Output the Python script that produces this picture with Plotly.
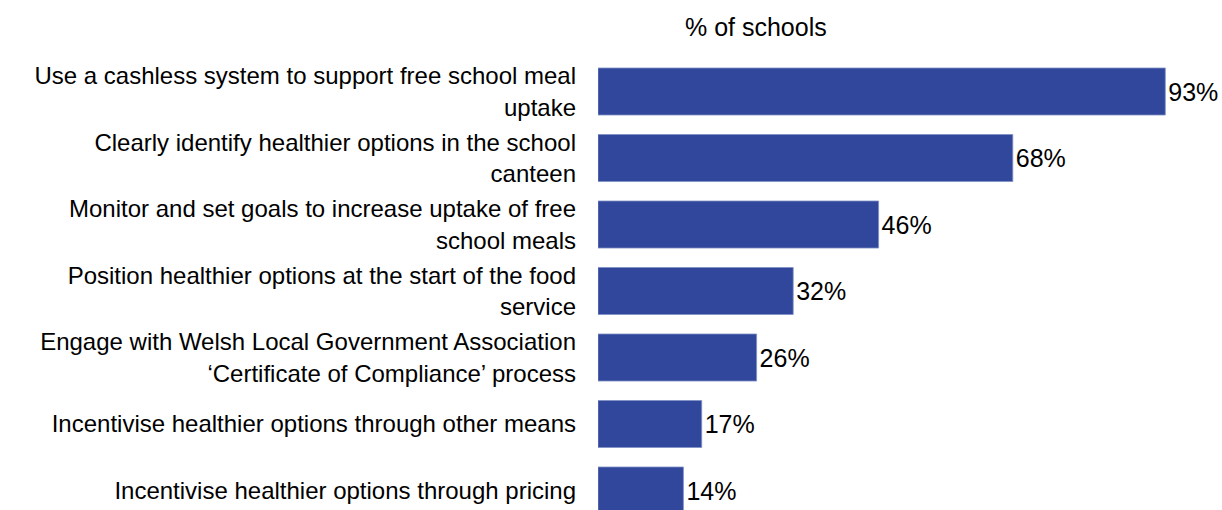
import plotly.graph_objects as go

categories = [
    "Use a cashless system to support free school meal<br>uptake",
    "Clearly identify healthier options in the school<br>canteen",
    "Monitor and set goals to increase uptake of free<br>school meals",
    "Position healthier options at the start of the food<br>service",
    "Engage with Welsh Local Government Association<br>\u2018Certificate of Compliance\u2019 process",
    "Incentivise healthier options through other means",
    "Incentivise healthier options through pricing",
]
values = [93, 68, 46, 32, 26, 17, 14]
axis_title = "% of schools"

positions = list(range(len(categories)))
font_family = "Liberation Sans, Arial, sans-serif"
bar_color = "#30479C"

fig = go.Figure(
    go.Bar(
        x=values,
        y=positions,
        orientation="h",
        width=0.707,
        marker=dict(color=bar_color, line=dict(color="#7f8fc4", width=0.8)),
        text=[f"{v}%" for v in values],
        textposition="outside",
        textfont=dict(family=font_family, size=25, color="#000000"),
        cliponaxis=False,
    )
)

fig.update_layout(
    width=1222,
    height=510,
    margin=dict(l=598, r=14, t=0, b=0),
    paper_bgcolor="white",
    plot_bgcolor="white",
    showlegend=False,
    font=dict(family=font_family, size=24, color="#000000"),
    xaxis=dict(range=[0, 100], visible=False, fixedrange=True),
    yaxis=dict(
        range=[6.293, -1.376],
        tickmode="array",
        tickvals=positions,
        ticktext=categories,
        showgrid=False,
        zeroline=False,
        showline=False,
        ticks="",
        ticklabelstandoff=21,
        tickfont=dict(family=font_family, size=24, color="#000000"),
        fixedrange=True,
    ),
    annotations=[
        dict(
            text=axis_title,
            # heading centred above the bars, positioned in pixel terms
            x=(756 - 598) / 610,
            y=1 - 27 / 510,
            xref="paper",
            yref="paper",
            xanchor="center",
            yanchor="middle",
            showarrow=False,
            font=dict(family=font_family, size=25, color="#000000"),
        )
    ],
)

fig.write_html("out.html")
